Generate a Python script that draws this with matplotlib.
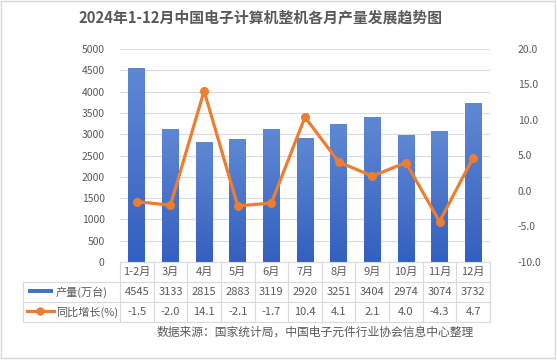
import matplotlib
matplotlib.use("Agg")
import matplotlib.pyplot as plt
import matplotlib.transforms as mtransforms
from matplotlib.colors import LinearSegmentedColormap
from matplotlib.patches import Rectangle
from matplotlib.lines import Line2D
import numpy as np

plt.rcParams['font.family'] = ['Noto Sans CJK SC', 'DejaVu Sans']

months = ['1-2月', '3月', '4月', '5月', '6月', '7月', '8月', '9月', '10月', '11月', '12月']
output = [4545, 3133, 2815, 2883, 3119, 2920, 3251, 3404, 2974, 3074, 3732]
growth = [-1.5, -2.0, 14.1, -2.1, -1.7, 10.4, 4.1, 2.1, 4.0, -4.3, 4.7]
row_labels = ['产量(万台)', '同比增长(%)']

W, H = 557, 363
txt = '#595959'
grid_c = '#D9D9D9'
orange = '#ED7D31'


def fx(px):
    return px / W


def fy(py):
    return 1 - py / H


fig = plt.figure(figsize=(W / 100, H / 100), dpi=100)
ax = fig.add_axes([fx(120), fy(262), fx(490) - fx(120), fy(49) - fy(262)])

x = np.arange(len(months))
bars = ax.bar(x, output, width=0.5, color='none', edgecolor='none', zorder=2)

# vertical gradient on each bar
grad = np.linspace(0, 1, 256).reshape(-1, 1)
cmap = LinearSegmentedColormap.from_list('bar', ['#3360C0', '#5F88D3'])
for i, b in enumerate(bars):
    im = ax.imshow(grad, extent=[b.get_x(), b.get_x() + b.get_width(), 0, b.get_height()],
                   origin='lower', cmap=cmap, aspect='auto', zorder=2)
    im.set_clip_path(b)

ax.set_xlim(-0.5, len(months) - 0.5)
ax.set_ylim(0, 5000)
ax.set_yticks(np.arange(0, 5001, 500))
ax.set_xticks([])
ax.yaxis.grid(True, color=grid_c, lw=0.8)
ax.set_axisbelow(True)
for s in ax.spines.values():
    s.set_visible(False)
ax.tick_params(axis='y', length=0, labelsize=7.5, labelcolor=txt, pad=11)

ax2 = ax.twinx()
ax2.plot(x, growth, color=orange, lw=2.3, marker='o', ms=5.5, zorder=5)
ax2.set_ylim(-10, 20)
ax2.set_yticks(np.arange(-10, 21, 5))
ax2.set_yticklabels([f'{v:.1f}' for v in np.arange(-10, 21, 5)])
for s in ax2.spines.values():
    s.set_visible(False)
ax2.tick_params(axis='y', length=0, labelsize=7.5, labelcolor=txt, pad=20)
for lab in ax2.get_yticklabels():
    lab.set_horizontalalignment('left')

# data table under the axis
bt = mtransforms.blended_transform_factory(ax.transData, fig.transFigure)
ft = fig.transFigure
lkw = dict(color=grid_c, lw=0.8, clip_on=False)
for py in [262]:
    fig.add_artist(Line2D([fx(120), fx(490)], [fy(py), fy(py)], transform=ft, **lkw))
for py in [282, 302, 322]:
    fig.add_artist(Line2D([fx(23), fx(490)], [fy(py), fy(py)], transform=ft, **lkw))
for k in range(len(months) + 1):
    fig.add_artist(Line2D([k - 0.5, k - 0.5], [fy(262), fy(322)], transform=bt, **lkw))
fig.add_artist(Line2D([fx(23), fx(23)], [fy(282), fy(322)], transform=ft, **lkw))

for i, m in enumerate(months):
    fig.text(i, fy(272), m, transform=bt, ha='center', va='center', fontsize=8, color=txt)
    fig.text(i, fy(292), str(output[i]), transform=bt, ha='center', va='center', fontsize=8, color=txt)
    fig.text(i, fy(312), f'{growth[i]:.1f}', transform=bt, ha='center', va='center', fontsize=8, color=txt)

# legend keys in the row label column
fig.add_artist(Rectangle((fx(28), fy(293)), fx(53) - fx(28), fy(289) - fy(293),
                         transform=ft, color='#4472C4', lw=0))
fig.add_artist(Line2D([fx(27), fx(54)], [fy(311), fy(311)], transform=ft, color=orange, lw=2.3))
fig.add_artist(Line2D([fx(40)], [fy(311)], transform=ft, color=orange, marker='o', ms=5))
fig.text(fx(56), fy(292), row_labels[0], ha='left', va='center', fontsize=8, color=txt)
fig.text(fx(56), fy(312), row_labels[1], ha='left', va='center', fontsize=8, color=txt)

fig.text(fx(261), fy(17), '2024年1-12月中国电子计算机整机各月产量发展趋势图',
         ha='center', va='center', fontsize=10.7, fontweight='bold', color=txt)
fig.text(fx(315), fy(332), '数据来源：国家统计局，中国电子元件行业协会信息中心整理',
         ha='center', va='center', fontsize=8.5, color=txt)

fig.add_artist(Rectangle((fx(1), fy(358)), fx(555) - fx(1), fy(1) - fy(358),
                         transform=ft, fill=False, edgecolor=grid_c, lw=1))

fig.savefig('out.png', dpi=100)
